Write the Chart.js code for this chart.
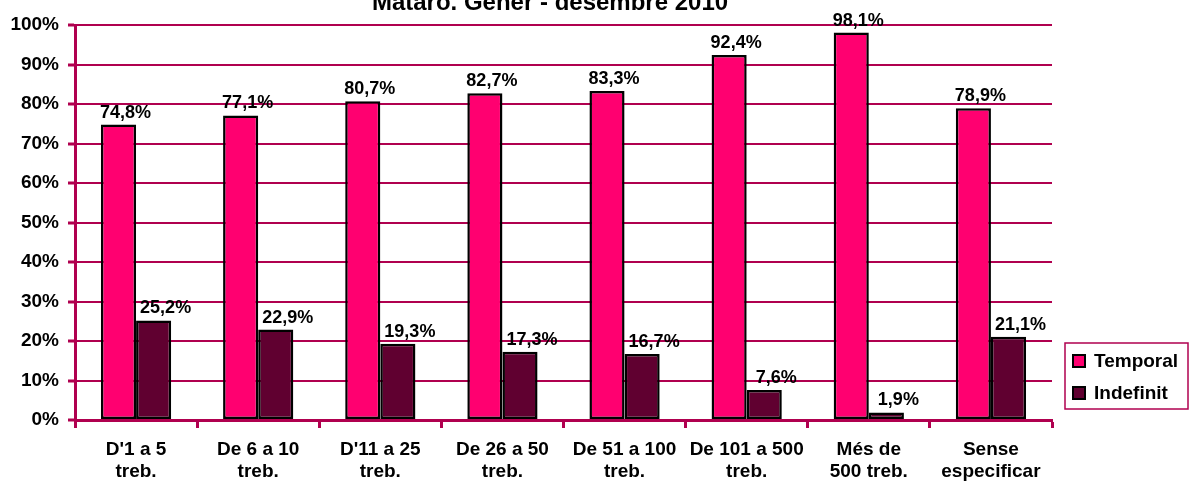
<!DOCTYPE html>
<html>
<head>
<meta charset="utf-8">
<script src="https://cdn.jsdelivr.net/npm/chart.js@4/dist/chart.umd.min.js"></script>
<style>
  html, body { margin: 0; padding: 0; background: #fff; }
  #wrap { width: 1190px; height: 491px; position: relative; }
</style>
</head>
<body>
<div id="wrap"><canvas id="contractChart"></canvas></div>
<script>
const chartTitle = 'Mataró. Gener - desembre 2010';
const categories = [
  ["D'1 a 5", 'treb.'],
  ['De 6 a 10', 'treb.'],
  ["D'11 a 25", 'treb.'],
  ['De 26 a 50', 'treb.'],
  ['De 51 a 100', 'treb.'],
  ['De 101 a 500', 'treb.'],
  ['Més de', '500 treb.'],
  ['Sense', 'especificar']
];
const temporal = [74.8, 77.1, 80.7, 82.7, 83.3, 92.4, 98.1, 78.9];
const indefinit = [25.2, 22.9, 19.3, 17.3, 16.7, 7.6, 1.9, 21.1];
const yTicks = [0, 10, 20, 30, 40, 50, 60, 70, 80, 90, 100];

const LINE = '#b0004f';
const FONT = '"Liberation Sans", Arial, sans-serif';

function pct(v) {
  return v.toFixed(1).replace('.', ',') + '%';
}

// value labels above the bars, title and the boxed legend
const decorations = {
  id: 'decorations',
  afterDatasetsDraw(chart) {
    const ctx = chart.ctx;
    const shifts = [7, 12];
    ctx.save();
    ctx.fillStyle = '#000';
    ctx.font = 'bold 18px ' + FONT;
    ctx.textAlign = 'center';
    ctx.textBaseline = 'alphabetic';
    chart.data.datasets.forEach((ds, i) => {
      chart.getDatasetMeta(i).data.forEach((bar, j) => {
        ctx.fillText(pct(ds.data[j]), bar.x + shifts[i], bar.y - 7);
      });
    });
    ctx.restore();
  },
  afterDraw(chart) {
    const ctx = chart.ctx;
    ctx.save();
    ctx.fillStyle = '#000';
    ctx.font = 'bold 24px ' + FONT;
    ctx.textAlign = 'center';
    ctx.textBaseline = 'alphabetic';
    ctx.fillText(chartTitle, 550, 10);

    // legend
    const lx = 1065, ly = 343, lw = 123, lh = 66;
    ctx.strokeStyle = LINE;
    ctx.lineWidth = 1.5;
    ctx.strokeRect(lx, ly, lw, lh);
    ctx.font = 'bold 19px ' + FONT;
    ctx.textAlign = 'left';
    ctx.textBaseline = 'middle';
    chart.data.datasets.forEach((ds, i) => {
      const cy = ly + 18 + i * 32;
      ctx.fillStyle = ds.backgroundColor;
      ctx.fillRect(lx + 8, cy - 6, 12, 12);
      ctx.strokeStyle = '#000';
      ctx.lineWidth = 2;
      ctx.strokeRect(lx + 8, cy - 6, 12, 12);
      ctx.fillStyle = '#000';
      ctx.fillText(ds.label, lx + 29, cy + 1);
    });
    ctx.restore();
  }
};

new Chart(document.getElementById('contractChart'), {
  type: 'bar',
  data: {
    labels: categories,
    datasets: [{
      label: 'Temporal',
      data: temporal,
      backgroundColor: '#ff0070',
      borderColor: '#000',
      borderWidth: 2.5,
      borderSkipped: false
    }, {
      label: 'Indefinit',
      data: indefinit,
      backgroundColor: '#600030',
      borderColor: '#000',
      borderWidth: 2.5,
      borderSkipped: false
    }]
  },
  options: {
    responsive: true,
    maintainAspectRatio: false,
    animation: false,
    categoryPercentage: 0.575,
    barPercentage: 1,
    layout: { padding: { top: 25, right: 138, left: 0, bottom: 0 } },
    plugins: {
      legend: { display: false },
      title: { display: false },
      tooltip: { enabled: false }
    },
    scales: {
      x: {
        afterFit(scale) { scale.height = 71; },
        grid: {
          offset: true,
          drawOnChartArea: false,
          drawTicks: true,
          tickLength: 8,
          tickWidth: 3,
          color: LINE
        },
        border: { display: true, color: LINE, width: 3 },
        ticks: {
          color: '#000',
          padding: 11,
          maxRotation: 0,
          autoSkip: false,
          font: { family: FONT, size: 19, weight: 'bold', lineHeight: 1.15 }
        }
      },
      y: {
        min: 0,
        max: 100,
        afterFit(scale) { scale.width = 75; },
        afterBuildTicks(scale) {
          scale.ticks = yTicks.map(v => ({ value: v }));
        },
        grid: {
          color: LINE,
          lineWidth: 2,
          drawTicks: true,
          tickLength: 7,
          tickWidth: 3
        },
        border: { display: true, color: LINE, width: 3 },
        ticks: {
          color: '#000',
          padding: 9,
          callback: v => v + '%',
          font: { family: FONT, size: 19, weight: 'bold' }
        }
      }
    }
  },
  plugins: [decorations]
});
</script>
</body>
</html>
